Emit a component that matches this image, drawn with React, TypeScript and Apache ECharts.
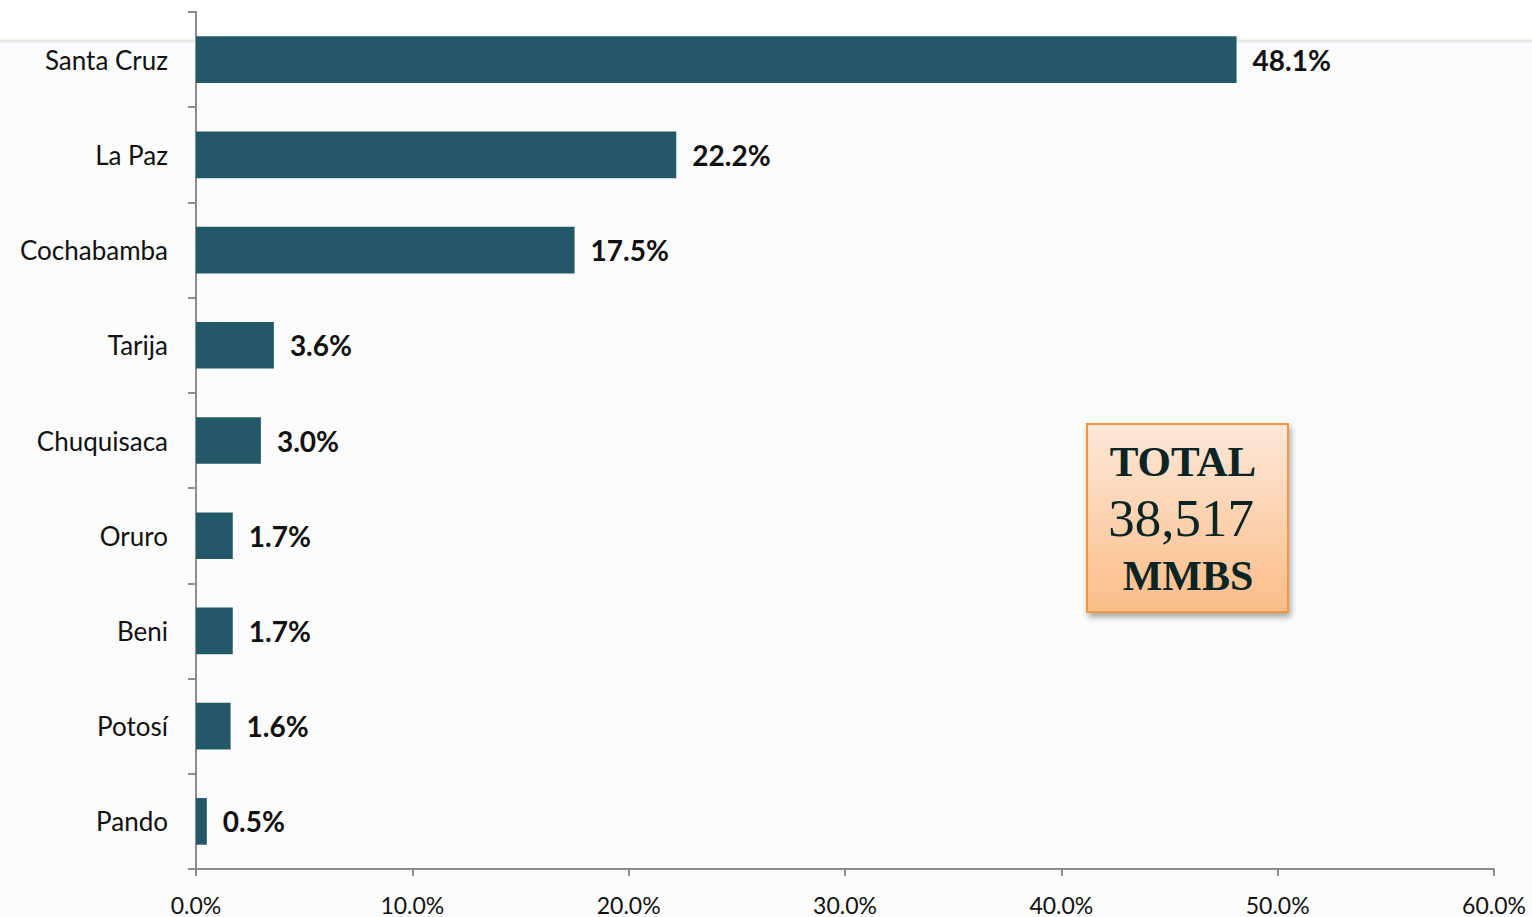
import React, { useEffect, useRef } from "react";
import * as echarts from "echarts";

const categories = ["Santa Cruz", "La Paz", "Cochabamba", "Tarija", "Chuquisaca", "Oruro", "Beni", "Potosí", "Pando"];
const shares = [48.1, 22.2, 17.5, 3.6, 3.0, 1.7, 1.7, 1.6, 0.5];
const boxLines = ["TOTAL", "38,517", "MMBS"];

export default function App() {
  const ref = useRef<HTMLDivElement>(null);
  useEffect(() => {
    const chart = echarts.init(ref.current!, undefined, { renderer: "svg" });
    chart.setOption({
      animation: false,
      backgroundColor: "#fcfcfc",
      grid: { left: 196, right: 38, top: 12, bottom: 48, containLabel: false },
      xAxis: {
        type: "value",
        min: 0,
        max: 60,
        interval: 10,
        splitLine: { show: false },
        axisLine: { show: true, lineStyle: { color: "#8c8c8c", width: 2 } },
        axisTick: { show: true, length: 7, lineStyle: { color: "#8c8c8c", width: 2 } },
        axisLabel: {
          formatter: (v: number) => v.toFixed(1) + "%",
          fontFamily: "Lato",
          fontSize: 23,
          color: "#111",
          margin: 24,
        },
      },
      yAxis: {
        type: "category",
        data: categories,
        inverse: true,
        axisLine: { show: true, lineStyle: { color: "#8c8c8c", width: 2 } },
        axisTick: { show: true, length: 8, lineStyle: { color: "#8c8c8c", width: 2 } },
        axisLabel: {
          fontFamily: "Lato",
          fontSize: 26,
          color: "#111",
          margin: 28,
        },
      },
      series: [
        {
          type: "bar",
          data: shares,
          barWidth: "49%",
          itemStyle: { color: "#235868" },
          label: {
            show: true,
            position: "right",
            distance: 16,
            formatter: (p: any) => Number(p.value).toFixed(1) + "%",
            fontFamily: "Lato",
            fontWeight: "bold",
            fontSize: 28,
            color: "#111",
          },
        },
      ],
      graphic: [
        {
          type: "rect",
          left: 0,
          top: 38,
          shape: { width: 1532, height: 6 },
          style: {
            fill: new echarts.graphic.LinearGradient(0, 0, 0, 1, [
              { offset: 0, color: "rgba(230,230,224,0)" },
              { offset: 0.5, color: "rgba(226,226,218,0.9)" },
              { offset: 1, color: "rgba(230,230,224,0)" },
            ]),
          },
          z: -1,
          silent: true,
        },
        {
          type: "rect",
          left: 0,
          top: 0,
          shape: { width: 1532, height: 40 },
          style: { fill: "#ffffff" },
          z: -2,
          silent: true,
        },
        {
          type: "group",
          left: 1086,
          top: 423,
          children: [
            {
              type: "rect",
              shape: { x: 0, y: 0, width: 201, height: 188 },
              style: {
                fill: new echarts.graphic.LinearGradient(0, 0, 0, 1, [
                  { offset: 0, color: "#fde8d8" },
                  { offset: 1, color: "#fbbd88" },
                ]),
                stroke: "#f7943e",
                lineWidth: 2,
                shadowBlur: 6,
                shadowOffsetX: 2,
                shadowOffsetY: 4,
                shadowColor: "rgba(0,0,0,0.35)",
              },
            },
            {
              type: "text",
              x: 96,
              y: 37,
              style: {
                text: boxLines[0],
                fontFamily: "Liberation Serif",
                fontWeight: "bold",
                fontSize: 43,
                fill: "#0b2424",
                align: "center",
                verticalAlign: "middle",
              },
            },
            {
              type: "text",
              x: 94,
              y: 94,
              style: {
                text: boxLines[1],
                fontFamily: "Liberation Serif",
                fontSize: 53,
                fill: "#0b2424",
                align: "center",
                verticalAlign: "middle",
              },
            },
            {
              type: "text",
              x: 101,
              y: 152,
              style: {
                text: boxLines[2],
                fontFamily: "Liberation Serif",
                fontWeight: "bold",
                fontSize: 42,
                fill: "#0b2424",
                align: "center",
                verticalAlign: "middle",
              },
            },
          ],
        },
      ],
    });
    return () => chart.dispose();
  }, []);
  return <div ref={ref} style={{ width: 1532, height: 917, position: "fixed", left: 0, top: 0 }} />;
}
